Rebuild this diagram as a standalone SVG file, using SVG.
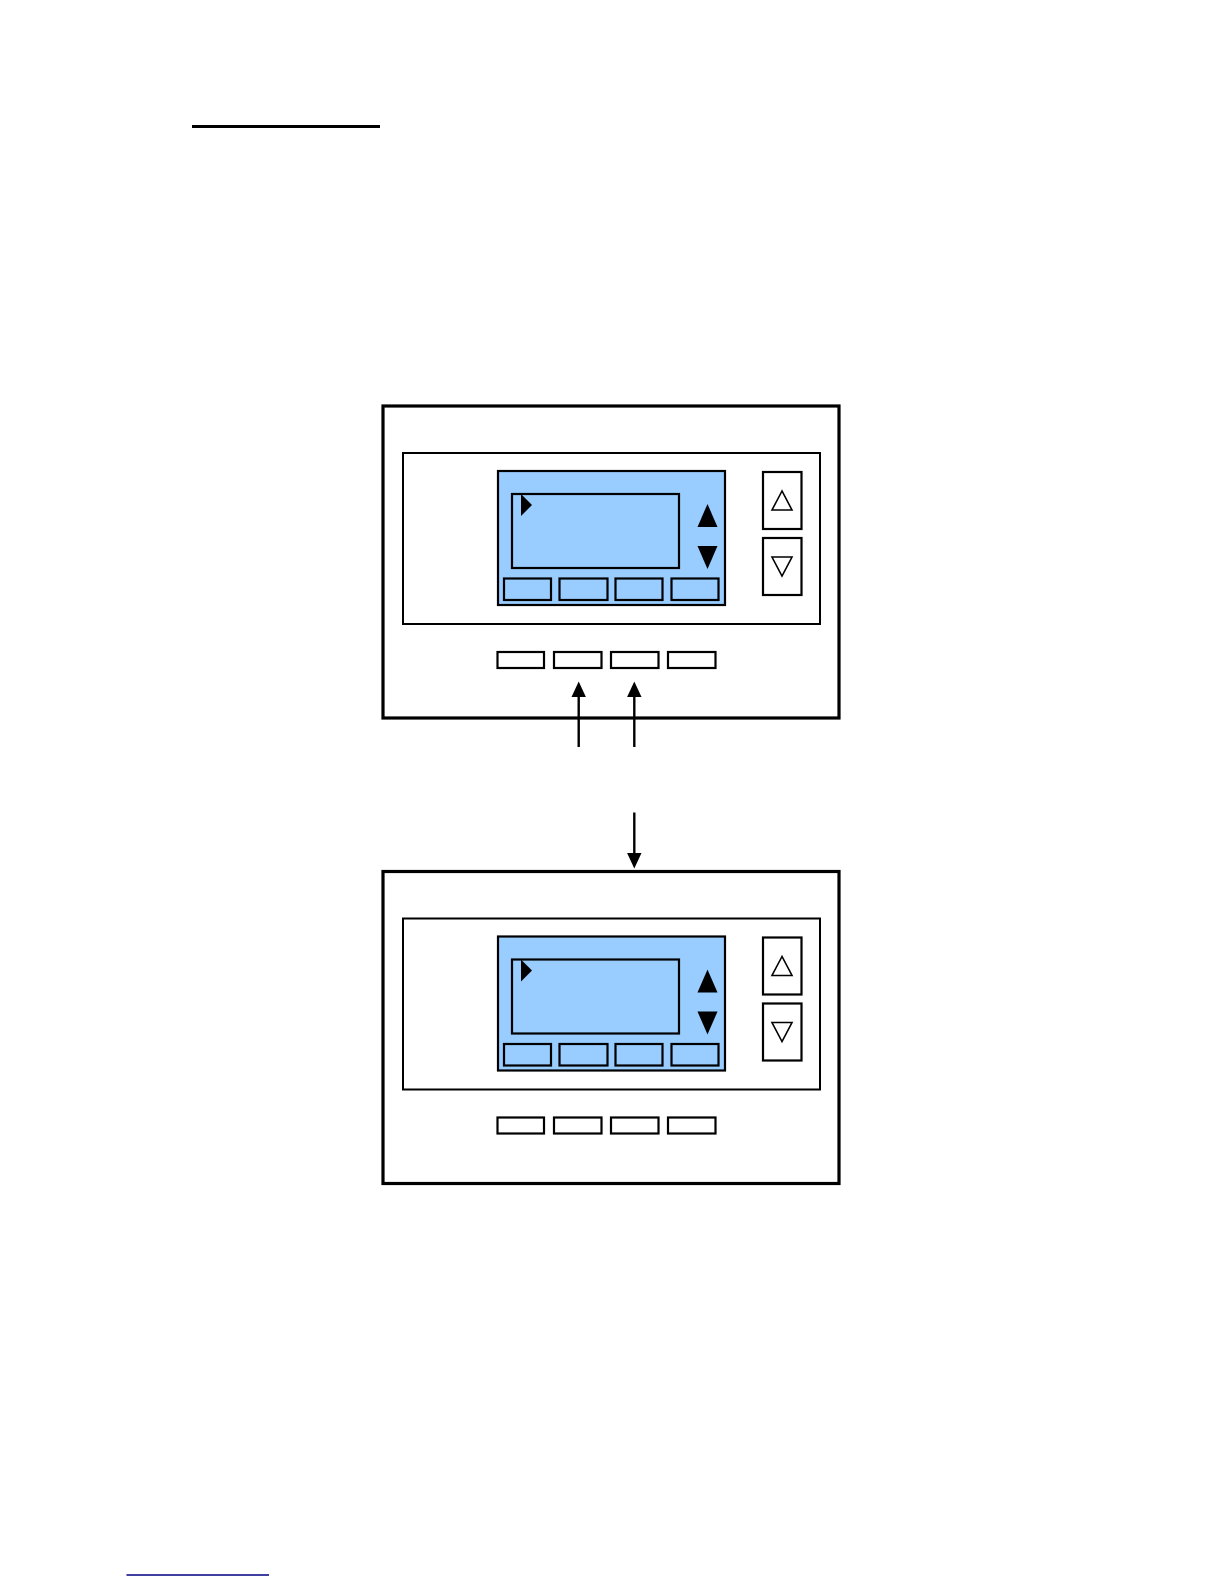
<svg xmlns="http://www.w3.org/2000/svg" xmlns:xlink="http://www.w3.org/1999/xlink" width="1224" height="1584" viewBox="0 0 1224 1584">
<style>
.outer{fill:#fff;stroke:#000;stroke-width:3.2}
.panel{fill:#fff;stroke:#000;stroke-width:2}
.lcd{fill:#99CCFF;stroke:#000;stroke-width:2.2}
.win{fill:#99CCFF;stroke:#000;stroke-width:2.2}
.key{fill:#99CCFF;stroke:#000;stroke-width:2.2}
.btn{fill:#fff;stroke:#000;stroke-width:2.2}
.solid{fill:#000}
.open{fill:#fff;stroke:#000;stroke-width:1.6}
.conn{stroke:#000;stroke-width:2.4;fill:none}
</style>
<defs>
<g id="device">
<rect class="outer" x="383" y="406" width="456" height="312"/>
<rect class="panel" x="403" y="453" width="417" height="171"/>
<rect class="lcd" x="498" y="471" width="227" height="134"/>
<rect class="win" x="512" y="494" width="167" height="74"/>
<polygon class="solid" points="521,494 532,505 521,516"/>
<polygon class="solid" points="707.5,504 697.5,527 717.5,527"/>
<polygon class="solid" points="697.5,546 717.5,546 707.5,569"/>
<rect class="key" x="504" y="578.5" width="47" height="21.5"/>
<rect class="key" x="559.5" y="578.5" width="48" height="21.5"/>
<rect class="key" x="615.5" y="578.5" width="47" height="21.5"/>
<rect class="key" x="671.5" y="578.5" width="47" height="21.5"/>
<rect class="btn" x="763" y="472" width="38.5" height="57"/>
<rect class="btn" x="763" y="538" width="38.5" height="57"/>
<polygon class="open" points="782,491 772,510 792,510"/>
<polygon class="open" points="772,557 792,557 782,576"/>
<rect class="btn" x="497.5" y="652" width="46.5" height="16"/>
<rect class="btn" x="554" y="652" width="47.5" height="16"/>
<rect class="btn" x="611" y="652" width="47.5" height="16"/>
<rect class="btn" x="668" y="652" width="47.5" height="16"/>
</g>
</defs>
<line x1="192" y1="126.5" x2="380" y2="126.5" stroke="#000" stroke-width="3"/>
<g id="device-top"><use xlink:href="#device"/></g>
<g id="device-bottom"><use xlink:href="#device" transform="translate(0,465.5)"/></g>
<g id="connectors">
<line class="conn" x1="578.7" y1="747" x2="578.7" y2="694"/>
<polygon class="solid" points="578.7,681.5 571.5,697 585.9,697"/>
<line class="conn" x1="634.3" y1="747" x2="634.3" y2="694"/>
<polygon class="solid" points="634.3,681.5 627.1,697 641.5,697"/>
<line class="conn" x1="634.3" y1="812.5" x2="634.3" y2="856"/>
<polygon class="solid" points="634.3,868.5 627.1,853 641.5,853"/>
</g>
<line x1="126.5" y1="1575" x2="269" y2="1575" stroke="#000080" stroke-width="1.4"/>
</svg>
